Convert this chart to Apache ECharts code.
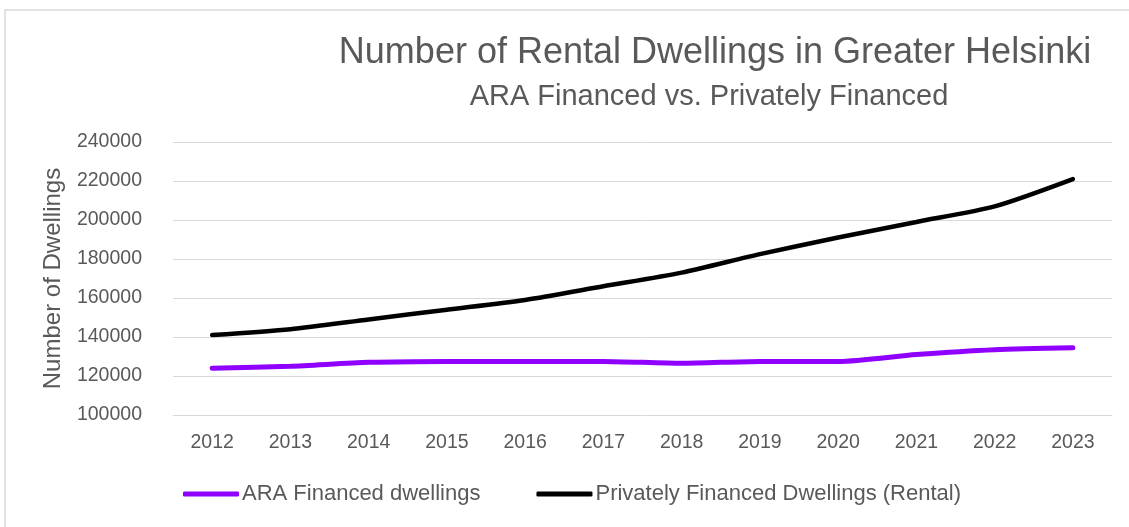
<!DOCTYPE html>
<html>
<head>
<meta charset="utf-8">
<script src="https://cdn.jsdelivr.net/npm/echarts@6/dist/echarts.min.js"></script>
<style>
  html, body { margin: 0; padding: 0; background: #fff; }
  #main { width: 1129px; height: 527px; }
</style>
</head>
<body>
<div id="main"></div>
<script>
// 年份
var years = ['2012', '2013', '2014', '2015', '2016', '2017', '2018', '2019', '2020', '2021', '2022', '2023'];
// ARA 融资住房
var araFinanced = [124000, 125000, 127000, 127500, 127500, 127500, 126500, 127500, 127500, 131000, 133500, 134500];
// 私人融资住房（出租）
var privateFinanced = [141000, 144000, 149000, 154000, 159000, 166000, 173000, 182500, 191000, 199000, 207000, 221000];
var seriesNames = ['ARA Financed dwellings', 'Privately Financed Dwellings (Rental)'];

var FONT = '"Liberation Sans", Arial, sans-serif';
var GREY = '#595959';

var chart = echarts.init(document.getElementById('main'), null, { renderer: 'canvas' });
chart.setOption({
	backgroundColor : '#fff',
	textStyle : { fontFamily : FONT },
	graphic : [ {
		type : 'rect',
		silent : true,
		shape : { x : 5, y : 10, width : 1300, height : 700 },
		style : { fill : null, stroke : '#d9d9d9', lineWidth : 1.5 }
	} ],
	title : [ {
		text : 'Number of Rental Dwellings in Greater Helsinki',
		left : 710,
		top : 30,
		textAlign : 'center',
		textStyle : { fontFamily : FONT, fontSize : 36, fontWeight : 'normal', color : GREY }
	}, {
		text : 'ARA Financed vs. Privately Financed',
		left : 704,
		top : 77,
		textAlign : 'center',
		textStyle : { fontFamily : FONT, fontSize : 29, fontWeight : 'normal', color : GREY }
	} ],
	legend : {
		left : 183,
		top : 483,
		padding : 0,
		icon : 'roundRect',
		itemWidth : 56,
		itemHeight : 5,
		itemGap : 56,
		textStyle : { fontFamily : FONT, fontSize : 22, color : GREY, padding : [0, 0, 0, -2] },
		data : seriesNames
	},
	grid : {
		left : 173,
		right : 17,
		top : 142,
		bottom : 112,
		containLabel : false
	},
	xAxis : {
		type : 'category',
		boundaryGap : true,
		data : years,
		axisLine : { show : true, lineStyle : { color : '#d9d9d9', width : 1 } },
		axisTick : { show : false },
		axisLabel : { fontFamily : FONT, fontSize : 19.5, color : GREY, margin : 18 }
	},
	yAxis : {
		type : 'value',
		min : 100000,
		max : 240000,
		interval : 20000,
		name : 'Number of Dwellings',
		nameLocation : 'middle',
		nameRotate : 90,
		nameGap : 108,
		nameTextStyle : { fontFamily : FONT, fontSize : 24, color : GREY },
		axisLine : { show : false },
		axisTick : { show : false },
		axisLabel : {
			fontFamily : FONT, fontSize : 19.5, color : GREY, margin : 31,
			padding : [0, 0, 8, 0],
			formatter : function(v) { return String(v); }
		},
		splitLine : { lineStyle : { color : '#d9d9d9', width : 1 } }
	},
	series : [ {
		name : seriesNames[0],
		type : 'line',
		data : araFinanced,
		smooth : 0.25,
		symbol : 'none',
		color : '#8f00ff',
		lineStyle : { width : 5, color : '#8f00ff', cap : 'round' }
	}, {
		name : seriesNames[1],
		type : 'line',
		data : privateFinanced,
		smooth : 0.25,
		symbol : 'none',
		color : '#000',
		lineStyle : { width : 4.5, color : '#000', cap : 'round' }
	} ]
});
</script>
</body>
</html>
